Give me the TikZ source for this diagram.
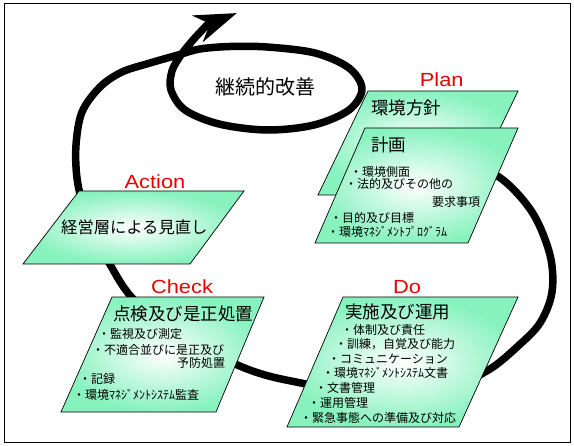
\documentclass[tikz,border=0pt]{standalone}
\usepackage{fontspec}
\setmainfont{Noto Sans CJK JP}
\newfontfamily\phasefont[FakeStretch=1.15]{Liberation Sans}
\usepackage{tikz}
\usetikzlibrary{arrows.meta}
\definecolor{panelcolor}{RGB}{135, 242, 190}
\definecolor{phasecolor}{RGB}{230, 0, 0}

\begin{document}
\begin{tikzpicture}[
    x=1bp, y=-1bp,
    loopline/.style={line width=7.5bp, line join=round},
    panel/.style={draw, line width=0.7bp, inner color=white, outer color=panelcolor},
    phase/.style={font=\phasefont\fontsize{19bp}{22bp}\selectfont, text=phasecolor, inner sep=0pt},
    heading/.style={font=\fontsize{17.5bp}{20bp}\selectfont, anchor=west, inner sep=0pt},
    item/.style={font=\fontsize{12bp}{14bp}\selectfont, anchor=west, inner sep=0pt},
]
    \useasboundingbox (0,0) rectangle (574,446);
    \draw[line width=0.8bp] (4.5,3) rectangle (570,442);

    % Improvement loop
    \draw[loopline, -{Stealth[length=42bp, width=28bp, inset=13bp]}]
        plot[smooth, tension=0.55] coordinates {
            (455,160) (499,177) (532,212) (550,255) (552,292) (540,323) (517,347) (490,369)
            (455,385) (400,392) (340,390) (301,383) (265,375) (233,363) (190,340) (148,312)
            (128,293) (112,268) (98,240) (84,208) (77,178) (76,145) (82,112) (100,87)
            (122,72) (150,63) (178,55) (200,49) (230,46.5) (267,47) (315,53) (349,68)
            (362,89) (349,110) (314,125) (267,130) (219,124) (185,110) (171,90) (172,71)
            (181,55) (193,40) (207,25)}
        -- (237,13);
    \node[font=\fontsize{20bp}{24bp}\selectfont, inner sep=0pt] (kaizen) at (265,87) {継続的改善};

    % Panels
    \path[panel] (368,91) -- (518,91) -- (468,195) -- (318,195) -- cycle;
    \path[panel] (365,128) -- (518,128) -- (468,243) -- (315,243) -- cycle;
    \path[panel] (79,191) -- (244,191) -- (190,264) -- (23,264) -- cycle;
    \path[panel] (112,297) -- (264,297) -- (216,412) -- (61,412) -- cycle;
    \path[panel] (343,297) -- (518,297) -- (459,427) -- (287,427) -- cycle;

    % Phase labels
    \node[phase] (plan) at (441.7,80) {Plan};
    \node[phase] (action) at (155,181.5) {Action};
    \node[phase] (check) at (182,287) {Check};
    \node[phase] (do) at (407,287) {Do};

    % Plan texts
    \node[heading] (policy) at (371,107.5) {環境方針};
    \node[heading] (planning) at (371,145) {計画};
    \node[item] (aspects) at (350,171.5) {・環境側面};
    \node[item] (legal) at (345,184) {・法的及びその他の};
    \node[item] (legalb) at (432,201.5) {要求事項};
    \node[item] (targets) at (330,217.5) {・目的及び目標};
    \node[item] (program) at (327,232) {・環境ﾏﾈｼﾞﾒﾝﾄﾌﾟﾛｸﾞﾗﾑ};

    % Action text
    \node[font=\fontsize{16.3bp}{19bp}\selectfont, anchor=west, inner sep=0pt] (review) at (61,227) {経営層による見直し};

    % Check texts
    \node[heading] (correct) at (113,314) {点検及び是正処置};
    \node[item] (monitor) at (98,334) {・監視及び測定};
    \node[item] (nonconf) at (92,349.5) {・不適合並びに是正及び};
    \node[item] (nonconfb) at (177,363) {予防処置};
    \node[item] (records) at (79,379) {・記録};
    \node[item] (audit) at (73,394.5) {・環境ﾏﾈｼﾞﾒﾝﾄｼｽﾃﾑ監査};

    % Do texts
    \node[heading] (operate) at (345,311.5) {実施及び運用};
    \node[item] (roles) at (341,330) {・体制及び責任};
    \node[item] (training) at (335,344) {・訓練，自覚及び能力};
    \node[item] (comms) at (328,359) {・コミュニケーション};
    \node[item] (docs) at (322,373) {・環境ﾏﾈｼﾞﾒﾝﾄｼｽﾃﾑ文書};
    \node[item] (doccontrol) at (315,388) {・文書管理};
    \node[item] (opcontrol) at (308,402.5) {・運用管理};
    \node[item] (emergency) at (300,417.5) {・緊急事態への準備及び対応};
\end{tikzpicture}
\end{document}
